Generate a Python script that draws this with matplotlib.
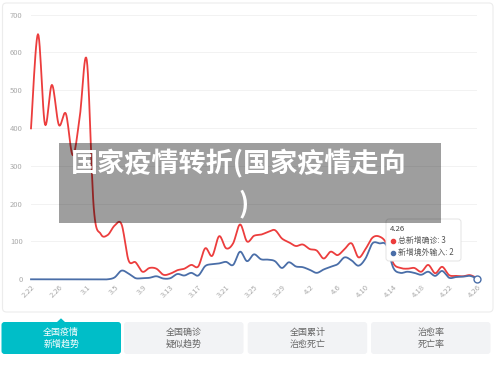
import numpy as np
import pandas as pd
import matplotlib
matplotlib.use("Agg")
import matplotlib.pyplot as plt
from matplotlib.patches import FancyBboxPatch, Rectangle, Polygon

plt.rcParams['font.family'] = ['Noto Sans CJK SC', 'DejaVu Sans']

RED, BLUE, TEAL, GRAY = "#ec3d3d", "#4a6ea8", "#00bec8", "#aaaaaa"
W, H = 500, 367

# 日期 2.22 ~ 4.26
dates = pd.date_range("2020-02-22", "2020-04-26", freq="D")
date_labels = [f"{d.month}.{d.day}" for d in dates]

total_new = [399, 648, 410, 514, 408, 438, 328, 430, 580, 190,
             120, 117, 142, 145, 50, 45, 20, 30, 28, 12,
             15, 24, 28, 38, 34, 82, 62, 114, 82, 95,
             145, 100, 115, 118, 125, 130, 108, 98, 88, 92,
             80, 76, 55, 73, 64, 80, 95, 58, 80, 110,
             113, 95, 42, 30, 28, 30, 20, 38, 16, 33,
             11, 9, 8, 11, 3]
imported = [0, 0, 0, 0, 0, 0, 0, 0, 0, 0,
            0, 0, 5, 23, 15, 3, 3, 4, 8, 2,
            3, 14, 10, 17, 10, 35, 40, 42, 46, 38,
            73, 48, 66, 53, 52, 48, 30, 45, 34, 32,
            25, 17, 26, 33, 40, 58, 50, 36, 55, 95,
            95, 90, 30, 17, 20, 17, 12, 20, 9, 22,
            4, 6, 7, 9, 2]

buttons = [("全国疫情\n新增趋势", True), ("全国确诊\n疑似趋势", False),
           ("全国累计\n治愈死亡", False), ("治愈率\n死亡率", False)]


def smooth(y, n=12):
    """Catmull-Rom 平滑 (类似 echarts smooth)."""
    y = np.asarray(y, float)
    x = np.arange(len(y), dtype=float)
    xp = np.concatenate([[x[0]], x, [x[-1]]])
    yp = np.concatenate([[y[0]], y, [y[-1]]])
    t = np.linspace(0, 1, n, endpoint=False)
    xs, ys = [], []
    for i in range(len(y) - 1):
        for arr, out in ((xp, xs), (yp, ys)):
            p0, p1, p2, p3 = arr[i:i + 4]
            out.append(0.5 * (2 * p1 + (-p0 + p2) * t
                              + (2 * p0 - 5 * p1 + 4 * p2 - p3) * t ** 2
                              + (-p0 + 3 * p1 - 3 * p2 + p3) * t ** 3))
    xs.append([x[-1]]); ys.append([y[-1]])
    return np.concatenate(xs), np.concatenate(ys)


fig = plt.figure(figsize=(W / 100, H / 100), dpi=100)
fig.patch.set_facecolor("white")

# 主图
x0, x1, y0, y1 = 31, 477, 279.3, 14.5
ax = fig.add_axes([x0 / W, 1 - y0 / H, (x1 - x0) / W, (y0 - y1) / H])
ax.set_xlim(0, len(dates) - 1)
ax.set_ylim(0, 700)
for s in ax.spines.values():
    s.set_visible(False)
ax.set_yticks(range(0, 701, 100))
ax.yaxis.grid(True, color="#f2f2f2", lw=0.7)
ax.set_axisbelow(True)
ax.axhline(0, color="#dddddd", lw=0.8, zorder=1)
ax.tick_params(axis="y", length=0, pad=6, labelsize=5.5, labelcolor=GRAY)
ax.set_xticks(range(0, len(dates), 4))
ax.set_xticklabels(date_labels[::4], rotation=45, ha="right",
                   rotation_mode="anchor")
ax.tick_params(axis="x", length=0, pad=3, labelsize=5.5, labelcolor=GRAY)

ax.axvline(len(dates) - 1, color="#cccccc", lw=0.7, ls=(0, (2, 2)), zorder=1)
sx, sy = smooth(total_new)
ax.plot(sx, sy, color=RED, lw=1.3, zorder=3, clip_on=False)
sx, sy = smooth(imported)
ax.plot(sx, sy, color=BLUE, lw=1.3, zorder=4, clip_on=False)
ax.plot(len(dates) - 1, imported[-1], "o", ms=5, mfc="white", mec=BLUE,
        mew=1.0, zorder=5, clip_on=False)

# 叠加层 (像素坐标)
ov = fig.add_axes([0, 0, 1, 1], zorder=10)
ov.set_xlim(0, W); ov.set_ylim(H, 0); ov.axis("off")
ov.patch.set_alpha(0)

ov.add_patch(FancyBboxPatch((2.5, 3), 490.5, 309, boxstyle="round,pad=0,rounding_size=4",
                            fc="none", ec="#ececec", lw=0.8))

# 提示框
ov.add_patch(FancyBboxPatch((386, 219), 75, 42, boxstyle="round,pad=0,rounding_size=3",
                            fc="white", ec="#e3e3e3", lw=0.7))
ov.text(390, 229, date_labels[-1], fontsize=5.6, color="#444", va="center")
ov.plot(393, 240.5, "o", ms=3, color=RED)
ov.plot(393, 252.5, "o", ms=3, color=BLUE)
ov.text(397.5, 240.5, f"总新增确诊: {total_new[-1]}", fontsize=5.7, color="#555", va="center")
ov.text(397.5, 252.5, f"新增境外输入: {imported[-1]}", fontsize=5.7, color="#555", va="center")

# 标题横幅
ov.add_patch(Rectangle((59, 143), 382, 80.3, fc="black", alpha=0.38, lw=0))
ov.text(71, 164, "国家疫情转折(国家疫情走向", fontsize=19.5, weight="heavy",
        color="white", va="center", ha="left")
ov.text(244, 204, ")", fontsize=19.5, weight="heavy", color="white",
        va="center", ha="center")

# 底部按钮
bx = [1.5, 124, 247.7, 371]
for (label, active), left in zip(buttons, bx):
    ov.add_patch(FancyBboxPatch((left, 322), 119.5, 32,
                                boxstyle="round,pad=0,rounding_size=3",
                                fc=TEAL if active else "#f2f3f5", ec="none"))
    cx = left + 59.75
    for k, line in enumerate(label.split("\n")):
        ov.text(cx, 332.7 + 11.3 * k, line, fontsize=6.5, ha="center", va="center",
                color="white" if active else "#666666")
ov.add_patch(Polygon([(56.5, 322.5), (61, 318.3), (65.5, 322.5)], closed=True,
                     fc=TEAL, ec="none"))

fig.savefig("out.png", dpi=100)
